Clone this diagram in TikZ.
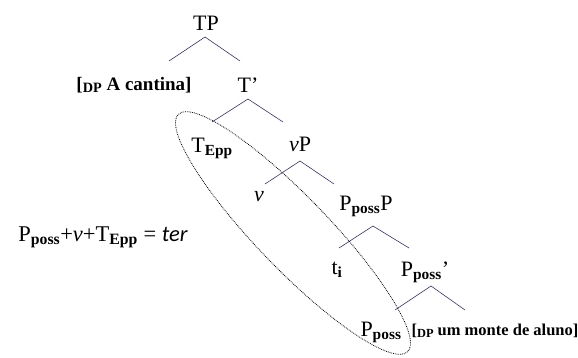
\documentclass[tikz,border=0pt]{standalone}
\usepackage{fontspec}
\setmainfont{Liberation Serif}
\newfontfamily\carl{Carlito}
\newcommand{\sbb}[1]{\textsubscript{\textbf{#1}}}
\newcommand{\dpl}{\raisebox{-0.25ex}{\scalebox{0.75}{\textbf{DP}}}}
\begin{document}
\begin{tikzpicture}[x=1pt,y=-1pt,
  lab/.style={inner sep=0pt,font=\fontsize{22}{24}\selectfont},
  brk/.style={inner sep=0pt,font=\fontsize{19}{21}\selectfont\bfseries},
  edge/.style={draw=black!70!blue!80,line width=0.6pt}]
\useasboundingbox (0,0) rectangle (578,358);
% nodes
\node[lab] (tp) at (206,23) {TP};
\node[brk] (dp1) at (134,85) {[\dpl\ A cantina]};
\node[lab] (tbar) at (248,85) {T'};
\node[lab] (tepp) at (212,148) {T\sbb{Epp}};
\node[lab] (vp) at (300,144) {\textit{v}P};
\node[lab] (v) at (259,197) {\textit{v}};
\node[lab] (pp) at (366,206) {P\sbb{poss}P};
\node[lab] (ti) at (337,270) {t\sbb{i}};
\node[lab] (ppbar) at (425,272) {P\sbb{poss}'};
\node[lab] (pposs) at (381,332) {P\sbb{poss}};
\node[inner sep=0pt,font=\fontsize{16.5}{18}\selectfont\bfseries] (dp2) at (495,331) {[\dpl\ um monte de aluno]};
\node[inner sep=0pt,font=\fontsize{22.5}{24}\selectfont] (eq) at (103,237) {P\sbb{poss}+\textit{v}+T\sbb{Epp} = {\carl\itshape ter}};
% branch coordinates
\coordinate (a1) at (205,37); \coordinate (l1) at (169,61); \coordinate (r1) at (240,61);
\coordinate (a2) at (248,99); \coordinate (l2) at (212,122); \coordinate (r2) at (283,122);
\coordinate (a3) at (300,161); \coordinate (l3) at (265,184); \coordinate (r3) at (334,184);
\coordinate (a4) at (373,226); \coordinate (l4) at (339,248); \coordinate (r4) at (409,248);
\coordinate (a5) at (431,286); \coordinate (l5) at (395,310); \coordinate (r5) at (465,310);
\draw[edge] (l1) -- (a1) -- (r1);
\draw[edge] (l2) -- (a2) -- (r2);
\draw[edge] (l3) -- (a3) -- (r3);
\draw[edge] (l4) -- (a4) -- (r4);
\draw[edge] (l5) -- (a5) -- (r5);
% ellipse
\coordinate (ec) at (293,233);
\draw[densely dotted,line width=0.8pt,rotate around={-46:(ec)}] (ec) ellipse [x radius=165, y radius=36];
\end{tikzpicture}
\end{document}
